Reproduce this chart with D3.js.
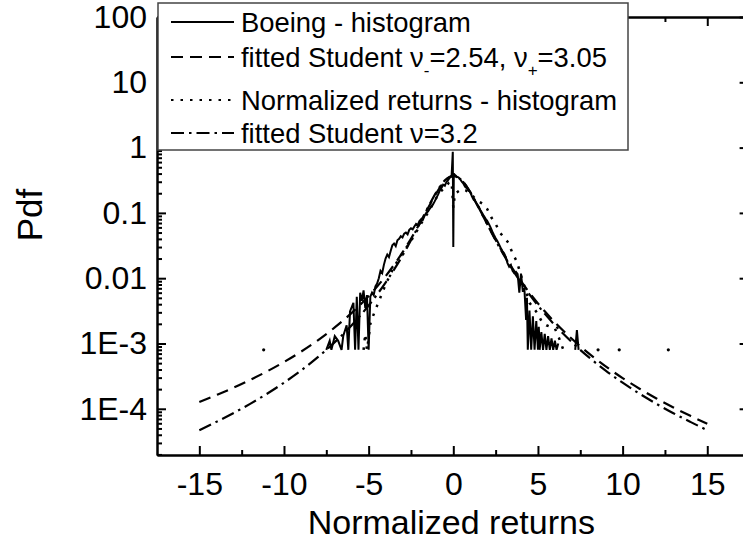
<!DOCTYPE html>
<html>
<head>
<meta charset="utf-8">
<title>Pdf of normalized returns</title>
<script src="https://d3js.org/d3.v7.min.js"></script>
<style>
  body { margin: 0; background: #fff; }
  text { font-family: "Liberation Sans", Arial, sans-serif; fill: #000; }
</style>
</head>
<body>
<svg width="743" height="544"></svg>
<script>
// Boeing - histogram (null = empty bin)
const boeingX = [-7.5, -7.3, -7.2, -7.0, -6.8, -6.6, -6.5, -6.3, -6.2, -6.1, -5.9, -5.8, -5.7, -5.6, -5.5, -5.4, -5.3, -5.2, -5.1, -5.0,
  -4.9, -4.8, -4.7, -4.6, -4.5, -4.4, -4.3, -4.2, -4.1, -4.0, -3.9, -3.8, -3.7, -3.6, -3.5, -3.4, -3.3, -3.2, -3.1, -3.0,
  -2.9, -2.8, -2.7, -2.6, -2.5, -2.4, -2.3, -2.2, -2.1, -2.0, -1.9, -1.8, -1.7, -1.6, -1.5, -1.4, -1.3, -1.2, -1.1, -1.0,
  -0.9, -0.8, -0.7, -0.6, -0.5, -0.4, -0.3, -0.2, -0.1, -0.03, 0.0, 0.03, 0.1, 0.2, 0.3, 0.4, 0.5, 0.6, 0.7, 0.8, 0.9, 1.0,
  1.1, 1.2, 1.3, 1.4, 1.5, 1.6, 1.7, 1.8, 1.9, 2.0, 2.1, 2.2, 2.3, 2.4, 2.5, 2.6, 2.7, 2.8, 2.9, 3.0,
  3.1, 3.2, 3.3, 3.4, 3.5, 3.6, 3.7, 3.8, 3.9, 4.0, 4.1, 4.2, 4.3, 4.35, 4.4, 4.5, 4.6, 4.7, 4.8, 4.9, 5.0,
  5.05, 5.1, 5.2, 5.3, 5.4, 5.5, 5.6, 5.7, 5.8, 5.9, 6.0, 6.1, 6.2, 6.7, 7.2, 7.3, 7.4];
const boeingY = [8e-4, 1.1e-3, 8e-4, 1.3e-3, 1.1e-3, 8e-4, 1.3e-3, 1.9e-3, 8e-4, 3.1e-3, 4.2e-3, 8e-4, 5.2e-3, 8e-4, 6e-3, 4.5e-3, 6.5e-3, 3.5e-3, 5.5e-3, 8e-4,
  5.2e-3, 6e-3, 5.5e-3, 7.5e-3, 8.3e-3, 0.010, 0.013, 0.012, 0.016, 0.020, 0.023, 0.021, 0.026, 0.032, 0.034, 0.031, 0.038, 0.040, 0.044, 0.042,
  0.048, 0.050, 0.047, 0.055, 0.058, 0.056, 0.062, 0.068, 0.065, 0.075, 0.080, 0.078, 0.090, 0.100, 0.105, 0.115, 0.125, 0.135, 0.150, 0.170,
  0.19, 0.22, 0.24, 0.27, 0.26, 0.30, 0.32, 0.35, 0.37, 0.86, 0.03, 0.40, 0.38, 0.36, 0.35, 0.33, 0.30, 0.28, 0.25, 0.24, 0.22, 0.21,
  0.18, 0.16, 0.15, 0.135, 0.125, 0.11, 0.10, 0.09, 0.082, 0.076, 0.068, 0.060, 0.052, 0.046, 0.041, 0.037, 0.033, 0.029, 0.026, 0.024,
  0.021, 0.017, 0.015, 0.016, 0.013, 0.012, 0.0125, 0.0115, 0.006, 0.0118, 0.0065, 0.0068, 0.0023, 0.005, 8e-4, 3.2e-3, 8e-4, 2.6e-3, 8e-4, 2.2e-3, 8e-4,
  1.8e-3, 8e-4, 1.5e-3, 8e-4, 1.4e-3, 8e-4, 1.3e-3, 8e-4, 1.2e-3, 8e-4, 1.1e-3, 8e-4, 1.0e-3, null, 8e-4, 1.6e-3, 8e-4];

// fitted Student, nu- = 2.54, nu+ = 3.05
const asymX = [-15, -14, -13, -12, -11, -10, -9, -8, -7, -6, -5, -4, -3.5, -3, -2.5, -2, -1.5, -1, -0.5, 0,
  0.5, 1, 1.5, 2, 2.5, 3, 3.5, 4, 5, 6, 7, 8, 9, 10, 11, 12, 13, 14, 15];
const asymY = [1.27e-4, 1.62e-4, 2.09e-4, 2.77e-4, 3.74e-4, 5.2e-4, 7.47e-4, 1.12e-3, 1.76e-3, 2.94e-3, 5.32e-3, 1.07e-2, 1.60e-2, 2.48e-2, 4.02e-2, 6.79e-2, 0.118, 0.201, 0.307, 0.365,
  0.314, 0.207, 0.120, 0.0674, 0.0385, 0.0228, 0.0140, 9.0e-3, 4.12e-3, 2.11e-3, 1.18e-3, 7.05e-4, 4.46e-4, 2.95e-4, 2.03e-4, 1.44e-4, 1.05e-4, 7.8e-5, 5.9e-5];

// Normalized returns - histogram
const normX = [-5.3, -5.2, -5.1, -5.0, -4.9, -4.75, -4.5, -4.25, -4.0, -3.75, -3.5, -3.25, -3.0, -2.75, -2.5, -2.25, -2.0, -1.75, -1.5, -1.25,
  -1.0, -0.75, -0.5, -0.25, -0.1, 0, 0.1, 0.25, 0.5, 0.75, 1.0, 1.25, 1.5, 1.75, 2.0, 2.25, 2.5, 2.75, 3.0, 3.25,
  3.5, 3.75, 4.0, 4.25, 4.5, 4.75, 5.0, 5.25, 5.5, 5.75, 6.0, 6.25, 6.5];
const normY = [8e-4, 1.4e-3, 8e-4, 1.2e-3, 2.0e-3, 2.6e-3, 3.8e-3, 5.5e-3, 8e-3, 0.011, 0.015, 0.019, 0.024, 0.030, 0.037, 0.048, 0.062, 0.080, 0.10, 0.13,
  0.17, 0.21, 0.25, 0.29, 0.30, 0.12, 0.20, 0.21, 0.23, 0.22, 0.20, 0.17, 0.15, 0.137, 0.115, 0.085, 0.068, 0.050, 0.042, 0.035,
  0.024, 0.018, 0.011, 0.0068, 0.0042, 0.0035, 0.0028, 0.0021, 0.0019, 0.0018, 0.0017, 0.0012, 8e-4];
// isolated single-count bins of the same histogram
const normTailX = [-11.2, 8.55, 9.8, 12.7];
const normTailY = [8e-4, 8e-4, 8e-4, 8e-4];

// fitted Student, nu = 3.2
const symX = [-15, -14, -13, -12, -11, -10, -9, -8, -7, -6, -5, -4, -3.5, -3, -2.5, -2, -1.5, -1, -0.5, 0,
  0.5, 1, 1.5, 2, 2.5, 3, 3.5, 4, 5, 6, 7, 8, 9, 10, 11, 12, 13, 14, 15];
const symY = [4.7e-5, 6.3e-5, 8.55e-5, 1.19e-4, 1.70e-4, 2.51e-4, 3.84e-4, 6.17e-4, 1.05e-3, 1.91e-3, 3.82e-3, 8.57e-3, 1.353e-2, 2.22e-2, 3.80e-2, 6.72e-2, 0.1207, 0.2085, 0.315, 0.369,
  0.315, 0.2085, 0.1207, 0.0672, 0.0380, 0.0222, 0.01353, 8.57e-3, 3.82e-3, 1.91e-3, 1.05e-3, 6.17e-4, 3.84e-4, 2.51e-4, 1.70e-4, 1.19e-4, 8.55e-5, 6.3e-5, 4.7e-5];

const xMajor = [-15, -10, -5, 0, 5, 10, 15];
const xMinor = [-12.5, -7.5, -2.5, 2.5, 7.5, 12.5];
const yMajor = [1e-4, 1e-3, 0.01, 0.1, 1, 10, 100];
const yLabels = ["1E-4", "1E-3", "0.01", "0.1", "1", "10", "100"];

const svg = d3.select("svg");
const plotLeft = 157, plotRight = 749.6, plotTop = 17, plotBottom = 455;

const x = d3.scaleLinear().domain([-17.5, 17.5]).range([plotLeft, plotRight]);
const y = d3.scaleLog().domain([1.96e-5, 100]).range([plotBottom, plotTop]);

const yMinor = [];
for (let e = -5; e <= 1; e++) {
  for (let k = 2; k <= 9; k++) {
    const v = k * Math.pow(10, e);
    if (v >= y.domain()[0] && v <= 100) yMinor.push(v);
  }
}

function styleAxis(g) {
  g.selectAll("path, line").attr("stroke", "#000").attr("stroke-width", 2);
  g.selectAll("text").attr("font-size", 32).attr("font-family", null);
}

// curves
const pts = (xs, ys) => xs.map((d, i) => [d, ys[i]]);
const line = d3.line()
  .defined(d => d[1] != null)
  .x(d => x(d[0]))
  .y(d => y(d[1]));
const smooth = d3.line().x(d => x(d[0])).y(d => y(d[1])).curve(d3.curveMonotoneX);

const dashed = "12,7", dotted = "2.5,7", dashDot = "13,5,2.5,5";

const curves = svg.append("g").attr("fill", "none").attr("stroke", "#000").attr("stroke-width", 2.2);
curves.append("path").attr("d", smooth(pts(asymX, asymY))).attr("stroke-dasharray", dashed);
curves.append("path").attr("d", smooth(pts(symX, symY))).attr("stroke-dasharray", dashDot);
curves.append("path").attr("d", line(pts(normX, normY))).attr("stroke-dasharray", dotted).attr("stroke-width", 2.5);
curves.append("path").attr("d", line(pts(boeingX, boeingY))).attr("stroke-width", 2);

svg.append("g").selectAll("circle")
  .data(pts(normTailX, normTailY))
  .join("circle")
  .attr("cx", d => x(d[0]))
  .attr("cy", d => y(d[1]))
  .attr("r", 1.6)
  .attr("fill", "#000");

// axes (ticks point inward)
const fmtX = d => String(d);  // plain hyphen minus, as in the original
svg.append("g").attr("transform", `translate(0,${plotBottom})`)
  .call(d3.axisBottom(x).tickValues(xMajor).tickSize(-9).tickSizeOuter(0).tickPadding(17).tickFormat(fmtX))
  .call(styleAxis);
svg.append("g").attr("transform", `translate(0,${plotBottom})`)
  .call(d3.axisBottom(x).tickValues(xMinor).tickSize(-5).tickSizeOuter(0).tickFormat(""))
  .call(styleAxis);
svg.append("g").attr("transform", `translate(0,${plotTop})`)
  .call(d3.axisTop(x).tickValues(xMajor).tickSize(-9).tickSizeOuter(0).tickFormat(""))
  .call(styleAxis);
svg.append("g").attr("transform", `translate(0,${plotTop})`)
  .call(d3.axisTop(x).tickValues(xMinor).tickSize(-5).tickSizeOuter(0).tickFormat(""))
  .call(styleAxis);
svg.append("g").attr("transform", `translate(${plotLeft},0)`)
  .call(d3.axisLeft(y).tickValues(yMajor).tickSize(-9).tickSizeOuter(0).tickPadding(10)
    .tickFormat((d, i) => yLabels[i]))
  .call(styleAxis);
svg.append("g").attr("transform", `translate(${plotLeft},0)`)
  .call(d3.axisLeft(y).tickValues(yMinor).tickSize(-5).tickSizeOuter(0).tickFormat(""))
  .call(styleAxis);
svg.append("g").attr("transform", `translate(${plotRight},0)`)
  .call(d3.axisRight(y).tickValues(yMajor).tickSize(-10).tickSizeOuter(0).tickFormat(""))
  .call(styleAxis);

// axis titles
svg.append("text")
  .attr("x", (plotLeft + plotRight) / 2 - 2).attr("y", 534)
  .attr("text-anchor", "middle").attr("font-size", 34)
  .text("Normalized returns");
svg.append("text")
  .attr("transform", "translate(42,215) rotate(-90)")
  .attr("text-anchor", "middle").attr("font-size", 35)
  .text("Pdf");

// legend
const legend = svg.append("g");
legend.append("rect")
  .attr("x", 158).attr("y", 3).attr("width", 470).attr("height", 147)
  .attr("fill", "#fff").attr("stroke", "#444").attr("stroke-width", 1.5);

const rows = [
  {y: 22, dash: null},
  {y: 57, dash: dashed},
  {y: 100, dash: dotted},
  {y: 133, dash: dashDot}
];
legend.selectAll("line.sample")
  .data(rows)
  .join("line")
  .attr("class", "sample")
  .attr("x1", 171).attr("x2", 234)
  .attr("y1", d => d.y).attr("y2", d => d.y)
  .attr("stroke", "#000").attr("stroke-width", 2)
  .attr("stroke-dasharray", d => d.dash);

const lt = (yy) => legend.append("text").attr("x", 241).attr("y", yy).attr("dy", "0.36em").attr("font-size", 27.4);
lt(22).text("Boeing - histogram");
const t2 = lt(57);
t2.append("tspan").text("fitted Student ν");
t2.append("tspan").attr("dy", 9).attr("font-size", 17).text("-");
t2.append("tspan").attr("dy", -9).text("=2.54, ν");
t2.append("tspan").attr("dy", 9).attr("font-size", 17).text("+");
t2.append("tspan").attr("dy", -9).text("=3.05");
lt(100).text("Normalized returns - histogram");
lt(133).text("fitted Student ν=3.2");
</script>
</body>
</html>
